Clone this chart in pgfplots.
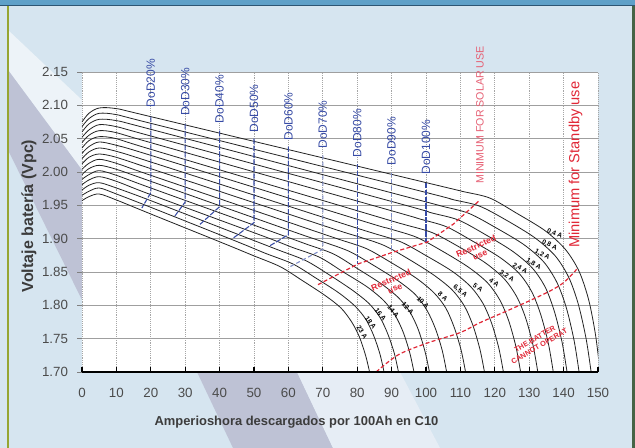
\documentclass[border=0pt]{standalone}
\usepackage{fontspec}
\setmainfont{Liberation Sans}
\usepackage{pgfplots}
\pgfplotsset{compat=1.18}
\definecolor{bgblue}{RGB}{214,229,240}
\definecolor{bandgray}{RGB}{190,194,213}
\definecolor{bandlight}{RGB}{230,237,245}
\definecolor{topblue}{RGB}{95,160,200}
\definecolor{topdark}{RGB}{45,85,115}
\definecolor{olive}{RGB}{150,165,50}
\definecolor{edgegreen}{RGB}{70,100,70}
\definecolor{tickgray}{RGB}{75,75,75}
\definecolor{labgray}{RGB}{60,60,60}
\definecolor{curve}{RGB}{35,35,35}
\definecolor{dodblue}{RGB}{55,75,165}
\definecolor{dodlight}{RGB}{125,140,200}
\definecolor{redl}{RGB}{225,40,55}
\definecolor{pinkred}{RGB}{230,95,115}
\tikzset{
  dodlab/.style={rotate=90, anchor=west, text=dodblue, font=\fontsize{9}{10}\selectfont, inner sep=0.5pt},
  clab/.style={rotate=#1, font=\bfseries\fontsize{5}{6}\selectfont, inner sep=0pt},
  dodl/.style={dodblue, line width=0.8pt, dash pattern=on 4pt off 1.2pt},
  dodll/.style={dodlight, line width=0.8pt, dash pattern=on 3pt off 2pt},
  cv/.style={curve, line width=0.6pt, smooth, tension=0.5},
}
\begin{document}
\begin{tikzpicture}
\begin{scope}[x=0.75pt,y=0.75pt]
\fill[bgblue] (0,0) rectangle (635,448);
\fill[white!55!bgblue] (8,418) -- (8,378) -- (82,278) -- (82,348) -- cycle;
\fill[bandgray] (8,378) -- (8,298) -- (82,148) -- (82,278) -- cycle;
\fill[bandgray] (197,76) -- (297,76) -- (333,0) -- (233,0) -- cycle;
\fill[bandlight] (297,76) -- (400,76) -- (440,0) -- (333,0) -- cycle;
\fill[topblue] (0,443) rectangle (635,448);
\fill[topdark] (0,441.8) rectangle (635,443.2);
\fill[olive] (6.5,0) rectangle (8.5,442);
\fill[edgegreen] (632,0) rectangle (635,442);
\end{scope}
\begin{axis}[
  at={(61.5pt,57pt)}, anchor=south west, scale only axis,
  width=387pt, height=225pt,
  xmin=0, xmax=150, ymin=1.7, ymax=2.15,
  xtick={0,10,...,150},
  ytick={1.7,1.75,1.8,1.85,1.9,1.95,2,2.05,2.1,2.15},
  /pgf/number format/assume math mode=true,
  y tick label style={/pgf/number format/fixed,/pgf/number format/fixed zerofill,/pgf/number format/precision=2,xshift=-3.5pt},
  x tick label style={yshift=-8.5pt},
  tick label style={font=\fontsize{10}{12}\selectfont, text=tickgray},
  tick pos=left,
  xtick align=inside, ytick align=outside,
  major tick length=3.5pt,
  x tick style={black, line width=0.8pt},
  y tick style={gray, line width=0.6pt},
  xmajorgrids, ymajorgrids,
  x grid style={gray!70, densely dotted, line width=0.6pt},
  y grid style={gray!75, line width=0.6pt},
  axis line style={draw=none},
  axis background/.style={fill=white},
  clip mode=individual,
]
% discharge curves (0,4 A ... 23 A)
\addplot[cv] coordinates {(0,2.075)(2,2.088)(5,2.096)(10,2.095)(20,2.083)(102.5,1.981)(110.5,1.971)(118.5,1.961)(126.4,1.938)(134.6,1.912)(140.5,1.884)(144.5,1.851)(147.3,1.808)(149.3,1.755)(150.6,1.700)};
\addplot[cv] coordinates {(0,2.068)(2,2.080)(5,2.088)(10,2.086)(20,2.073)(99.47,1.970)(107.47,1.959)(115.47,1.949)(123.6,1.927)(131.73,1.901)(137.59,1.874)(141.49,1.842)(144.26,1.802)(146.54,1.750)(148,1.700)};
\addplot[cv] coordinates {(0,2.060)(2,2.072)(5,2.079)(10,2.077)(20,2.064)(96.43,1.960)(104.43,1.949)(112.43,1.938)(120.45,1.916)(128.47,1.891)(134.24,1.865)(138.09,1.834)(140.81,1.796)(143.06,1.747)(144.5,1.700)};
\addplot[cv] coordinates {(0,2.052)(2,2.063)(5,2.071)(10,2.068)(20,2.054)(93.4,1.951)(101.4,1.939)(109.4,1.928)(117.3,1.906)(125.2,1.881)(130.89,1.856)(134.68,1.827)(137.37,1.790)(139.58,1.744)(141,1.700)};
\addplot[cv] coordinates {(0,2.044)(2,2.055)(5,2.062)(10,2.059)(20,2.044)(89.87,1.942)(97.87,1.930)(105.87,1.918)(113.65,1.896)(121.43,1.872)(127.04,1.848)(130.77,1.820)(133.42,1.785)(135.6,1.742)(137,1.700)};
\addplot[cv] coordinates {(0,2.036)(2,2.047)(5,2.053)(10,2.050)(20,2.034)(85.83,1.933)(93.83,1.921)(101.83,1.909)(109.5,1.888)(117.17,1.864)(122.69,1.840)(126.37,1.813)(128.97,1.781)(131.12,1.740)(132.5,1.700)};
\addplot[cv] coordinates {(0,2.028)(2,2.038)(5,2.045)(10,2.040)(20,2.025)(81.3,1.927)(89.3,1.915)(97.3,1.902)(104.85,1.881)(112.4,1.857)(117.84,1.834)(121.46,1.808)(124.03,1.777)(126.14,1.738)(127.5,1.700)};
\addplot[cv] coordinates {(0,2.020)(2,2.030)(5,2.036)(10,2.031)(20,2.015)(76.77,1.921)(84.77,1.908)(92.77,1.895)(100.2,1.874)(107.63,1.851)(112.99,1.828)(116.55,1.803)(119.08,1.773)(121.16,1.736)(122.5,1.700)};
\addplot[cv] coordinates {(0,2.012)(2,2.022)(5,2.027)(10,2.022)(20,2.005)(71.73,1.917)(79.73,1.904)(87.73,1.890)(95.05,1.869)(102.37,1.845)(107.63,1.823)(111.15,1.799)(113.63,1.770)(115.68,1.734)(117,1.700)};
\addplot[cv] coordinates {(0,2.004)(2,2.013)(5,2.019)(10,2.013)(20,1.995)(66.7,1.913)(74.7,1.899)(82.7,1.885)(89.9,1.864)(97.1,1.841)(102.28,1.819)(105.74,1.796)(108.19,1.767)(110.2,1.733)(111.5,1.700)};
\addplot[cv] coordinates {(0,1.996)(2,2.005)(5,2.010)(10,2.004)(20,1.986)(61.67,1.910)(69.67,1.896)(77.67,1.881)(84.75,1.860)(91.83,1.837)(96.93,1.816)(100.33,1.792)(102.74,1.765)(104.73,1.732)(106,1.700)};
\addplot[cv] coordinates {(0,1.989)(2,1.996)(5,2.002)(10,1.995)(20,1.976)(57.13,1.907)(65.13,1.892)(73.13,1.877)(80.1,1.855)(87.07,1.832)(92.08,1.811)(95.43,1.789)(97.8,1.763)(99.75,1.730)(101,1.700)};
\addplot[cv] coordinates {(0,1.981)(2,1.988)(5,1.993)(10,1.986)(20,1.966)(53.1,1.903)(61.1,1.887)(69.1,1.872)(75.95,1.850)(82.8,1.828)(87.73,1.807)(91.02,1.785)(93.35,1.760)(95.27,1.729)(96.5,1.700)};
\addplot[cv] coordinates {(0,1.973)(2,1.980)(5,1.984)(10,1.976)(20,1.957)(49.07,1.899)(57.07,1.883)(65.07,1.867)(71.8,1.846)(78.53,1.823)(83.38,1.803)(86.61,1.782)(88.9,1.757)(90.79,1.728)(92,1.700)};
\addplot[cv] coordinates {(0,1.965)(2,1.971)(5,1.976)(10,1.967)(20,1.947)(45.33,1.895)(53.33,1.878)(61.33,1.862)(67.95,1.841)(74.57,1.819)(79.33,1.799)(82.51,1.779)(84.76,1.755)(86.61,1.727)(87.8,1.700)};
\addplot[cv] coordinates {(0,1.957)(2,1.963)(5,1.967)(10,1.958)(20,1.937)(41.6,1.892)(49.6,1.875)(57.6,1.858)(64.1,1.837)(70.6,1.815)(75.28,1.796)(78.4,1.775)(80.61,1.753)(82.43,1.725)(83.6,1.700)};
% DoD lines
\addplot[dodl] coordinates {(20,2.083)(20,1.969)(17.4,1.946)};
\addplot[dodl] coordinates {(30,2.072)(30,1.955)(27,1.934)};
\addplot[dodl] coordinates {(40,2.062)(40,1.948)(34,1.920)};
\addplot[dodl] coordinates {(50,2.050)(50,1.924)(44,1.901)};
\addplot[dodl] coordinates {(60,2.038)(60,1.906)(54.5,1.889)};
\addplot[dodll] coordinates {(70,2.025)(70,1.884)(60.5,1.858)};
\addplot[dodl] coordinates {(80,2.012)(80,1.862)};
\addplot[dodll] coordinates {(90,1.999)(90,1.879)};
\addplot[dodl] coordinates {(100,1.984)(100,1.895)};
% red limit lines
\addplot[redl, line width=0.9pt, dash pattern=on 3pt off 1.8pt] coordinates {(68.6,1.831)(80.2,1.862)(90,1.879)(100.4,1.895)(108,1.922)(115.7,1.958)};
\addplot[redl, line width=0.9pt, dash pattern=on 3pt off 1.8pt, smooth] coordinates {(85.5,1.700)(92,1.726)(100.7,1.744)(109.9,1.759)(115.7,1.774)(125,1.795)(135.1,1.819)(140,1.834)(143.8,1.854)};
\draw[black, line width=1.1pt] (axis cs:0,1.7) -- (axis cs:150,1.7);
% DoD labels
\node[dodlab] at (axis cs:20,2.096) {DoD20\%};
\node[dodlab] at (axis cs:30,2.083) {DoD30\%};
\node[dodlab] at (axis cs:40,2.072) {DoD40\%};
\node[dodlab] at (axis cs:50,2.058) {DoD50\%};
\node[dodlab] at (axis cs:60,2.046) {DoD60\%};
\node[dodlab] at (axis cs:70,2.034) {DoD70\%};
\node[dodlab] at (axis cs:80,2.021) {DoD80\%};
\node[dodlab] at (axis cs:90,2.009) {DoD90\%};
\node[dodlab] at (axis cs:100,1.995) {DoD100\%};
% current labels
\node[clab=-22] at (axis cs:137.4,1.907) {0,4 A};
\node[clab=-25] at (axis cs:135.9,1.890) {0,8 A};
\node[clab=-28] at (axis cs:133.8,1.876) {1,2 A};
\node[clab=-30] at (axis cs:131.3,1.862) {1,8 A};
\node[clab=-31] at (axis cs:127.3,1.855) {2,4 A};
\node[clab=-33] at (axis cs:123.5,1.843) {3,2 A};
\node[clab=-35] at (axis cs:119.8,1.834) {4 A};
\node[clab=-37] at (axis cs:115.1,1.827) {5 A};
\node[clab=-40] at (axis cs:109.9,1.821) {6,5 A};
\node[clab=-43] at (axis cs:104.9,1.813) {8 A};
\node[clab=-46] at (axis cs:99.1,1.804) {10 A};
\node[clab=-48] at (axis cs:94.7,1.796) {12 A};
\node[clab=-50] at (axis cs:90.5,1.791) {14 A};
\node[clab=-52] at (axis cs:86.8,1.786) {16 A};
\node[clab=-55] at (axis cs:83.9,1.774) {18 A};
\node[clab=-58] at (axis cs:81.4,1.760) {23 A};
\node[rotate=24, text=redl, font=\bfseries\fontsize{6.5}{7}\selectfont, align=center, inner sep=0pt] at (axis cs:90.4,1.832) {Restricted\\use};
\node[rotate=24, text=redl, font=\bfseries\fontsize{6.5}{7}\selectfont, align=center, inner sep=0pt] at (axis cs:115.1,1.882) {Restricted\\use};
\node[rotate=30, text=redl, font=\bfseries\fontsize{5.5}{6.5}\selectfont, align=center, inner sep=0pt] at (axis cs:132.3,1.744) {THE BATTER\\CANNOT OPERAT};
\node[rotate=90, text=pinkred, font=\fontsize{8}{9}\selectfont, inner sep=0pt] at (axis cs:115.7,2.0856) {MINIMUM FOR SOLAR USE};
\node[rotate=90, text=redl, font=\fontsize{11}{12}\selectfont, inner sep=0pt] at (axis cs:143.5,2.011) {Minimum for Standby use};
\end{axis}
\begin{scope}[x=0.75pt,y=0.75pt]
\node[font=\bfseries\fontsize{9.7}{11}\selectfont, text=labgray, inner sep=0pt] at (296.5,26) {Amperioshora descargados por 100Ah en C10};
\node[rotate=90, font=\bfseries\fontsize{12}{14}\selectfont, text=labgray, inner sep=0pt] at (29,232) {Voltaje batería (Vpc)};
\pgfresetboundingbox
\path[use as bounding box] (0,0) rectangle (635,448);
\end{scope}
\end{tikzpicture}
\end{document}
